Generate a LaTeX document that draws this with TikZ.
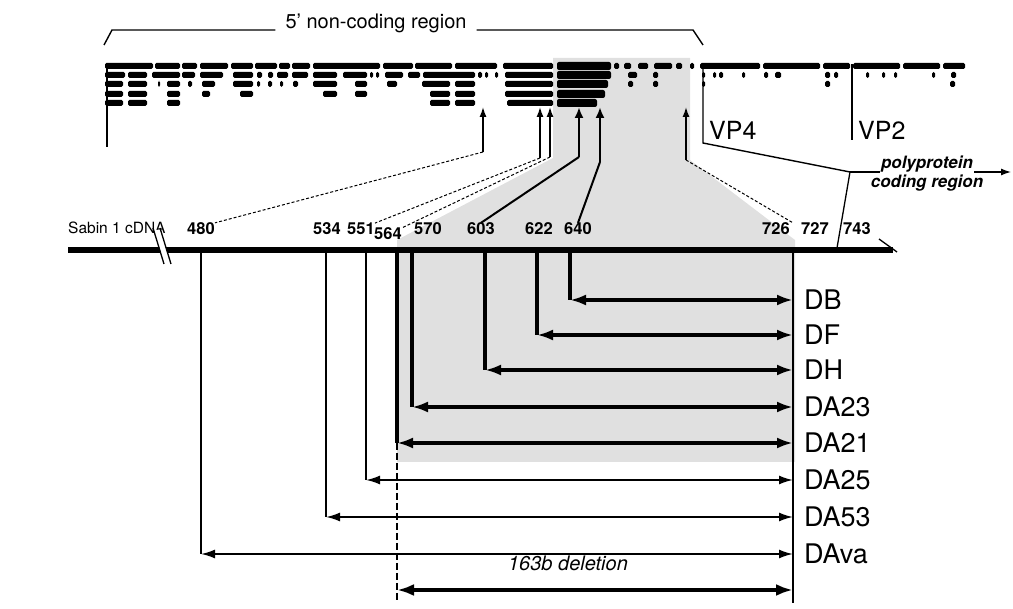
\documentclass[tikz,border=0pt]{standalone}
\usepackage{fontspec}
\setmainfont{TeX Gyre Heros}
\usetikzlibrary{arrows.meta,positioning,calc}

\begin{document}
\begin{tikzpicture}[x=1pt,y=-1pt,
  delzone/.style={fill=black!12},
  seg/.style={fill=black},
  num/.style={font=\fontsize{16.5}{16.5}\selectfont\bfseries,anchor=base,inner sep=0pt},
  mutlabel/.style={font=\fontsize{27}{27}\selectfont,anchor=west,inner sep=0pt},
  heavy/.style={line width=3.4pt,{Latex[length=16pt,width=11pt]}-{Latex[length=16pt,width=11pt]}},
  light/.style={line width=1.8pt,{Latex[length=14pt,width=9pt]}-{Latex[length=14pt,width=9pt]}},
  heavystem/.style={line width=3.2pt},
  lightstem/.style={line width=1.4pt},
  uparrow/.style={line width=1.4pt,-{Latex[length=10pt,width=7pt]}},
  bigup/.style={line width=2.8pt,-{Latex[length=11pt,width=9pt]}},
  guide/.style={line width=1pt,dash pattern=on 3pt off 2pt},
  ]
  \useasboundingbox (0,0) rectangle (1013,609);

  % Deleted region (shaded)
  \fill[delzone] (553,58) -- (690,58) -- (690,160) -- (795,240) -- (795,462)
    -- (397,462) -- (397,240) -- (553,158) -- cycle;

  % 5' non-coding region bracket
  \node[font=\fontsize{20}{20}\selectfont,inner xsep=10pt] (ncr) at (376,23) {5' non-coding region};
  \coordinate (br1) at (104,45);
  \coordinate (br2) at (112,30);
  \coordinate (br3) at (693,30);
  \coordinate (br4) at (703,45);
  \draw[line width=1.4pt] (br1) -- (br2) -- (br2 -| ncr.west);
  \draw[line width=1.4pt] (br3 -| ncr.east) -- (br3) -- (br4);

  % Sequence coverage bars
  \foreach \y/\segs in {
      66/{105/153,155/180,182/197,200/228,231/253,255/277,279/290,292/310,313/380,383/413,
          415/452,455/497,503/553,614/619,624/631,638/648,654/672,676/682,690/694,700/760,
          763/820,823/850,853/900,903/940,943/965},
      75/{105/125,128/147,152/180,182/195,200/223,233/253,257/262,268/273,277/288,292/308,
          313/337,343/367,370/373,376/379,385/403,408/420,423/475,478/482,485/488,495/498,
          505/553,628/637,653/658,702/705,713/716,719/723,742/745,764/768,775/781,825/830,
          834/838,866/869,882/885,894/897,932/935,951/956},
      84/{105/123,128/147,158/160,167/180,188/192,202/215,233/253,257/260,268/272,280/283,
          293/298,313/337,355/367,387/397,422/450,455/475,505/553,628/633,653/658,702/705,
          825/830,950/955},
      94/{105/123,128/147,167/180,202/210,240/253,323/337,355/367,430/450,455/475,505/553},
      103/{105/123,128/147,167/180,430/450,455/475,507/553}}{
    \foreach \a/\b in \segs {
      \fill[seg,rounded corners=1.5pt] (\a,\y-3) rectangle (\b,\y+3);
    }
  }
  % dense block
  \foreach \y/\b in {66/611,75/611,84/608,94/605,103/597}{
    \fill[seg,rounded corners=2pt] (557,\y-4) rectangle (\b,\y+4);
  }
  \draw[line width=1.6pt] (107,64) -- (107,147);

  % VP4 / VP2 boundaries
  \coordinate (vp4a) at (703,64);
  \coordinate (vp4b) at (703,143);
  \coordinate (vp2a) at (852,64);
  \coordinate (vp2b) at (852,140);
  \coordinate (pp) at (850,172);
  \draw[line width=1.4pt] (vp4a) -- (vp4b) -- (pp);
  \draw[line width=1.4pt] (vp2a) -- (vp2b);
  \node[font=\fontsize{25}{25}\selectfont,anchor=base west,inner sep=0pt] (VP4) at (709,140) {VP4};
  \node[font=\fontsize{25}{25}\selectfont,anchor=base west,inner sep=0pt] (VP2) at (858,140) {VP2};

  % polyprotein coding region
  \node[font=\fontsize{17}{17}\selectfont\bfseries\itshape,inner sep=1pt] (poly) at (927,164) {polyprotein};
  \node[font=\fontsize{17}{17}\selectfont\bfseries\itshape,inner sep=1pt,below=0pt of poly] (coding) {coding region};
  \coordinate (pout) at (1011,172);
  \coordinate (pdown) at (837,248);
  \draw[line width=1.3pt] (pp) -- (pp -| poly.west);
  \draw[line width=1.3pt,-{Latex[length=10pt,width=7pt]}] (pp -| poly.east) -- (pout);
  \draw[line width=1.3pt] (pp) -- (pdown);

  % cDNA axis
  \node[font=\fontsize{15.5}{15.5}\selectfont,anchor=base west,inner sep=0pt] (sabin) at (68,234) {Sabin 1 cDNA};
  \coordinate (ax0) at (68,250);
  \coordinate (ax1) at (893,250);
  \draw[line width=6pt] (ax0) -- (ax1);
  \fill[white] (154,230) -- (160,230) -- (170,262) -- (164,262) -- cycle;
  \draw[line width=1.3pt] (153,228) -- (164,264) (160,228) -- (171,264);
  \draw[line width=1.3pt] (879,239) -- (897,252);

  % Ticks and numbers
  \foreach \n/\x in {480/201,534/326,551/366,564/397,570/412,603/485,622/537,640/570,726/793}{
    \coordinate (t\n) at (\x,250);
  }
  \foreach \n/\x/\y in {480/201/235,534/327/235,551/361/235,564/388/240,570/428/235,
                        603/481/235,622/539/235,640/578/235,726/776/235,727/815/235,743/857/235}{
    \node[num] (l\n) at (\x,\y) {\n};
  }

  % Guides from the sequence bars to the cDNA
  \foreach \i/\x/\y in {1/483/152,2/540/158,3/550/157,4/579/157,5/600/162,6/686/160}{
    \coordinate (p\i) at (\x,\y);
    \coordinate (q\i) at (\x,107);
  }
  \draw[uparrow] (p1) -- (q1);
  \draw[uparrow] (p2) -- (q2);
  \draw[uparrow] (p3) -- (q3);
  \draw[bigup] (p4) -- (q4);
  \draw[bigup] (p5) -- (q5);
  \draw[uparrow] (p6) -- (q6);
  \draw[guide] (p1) -- (l480.north east);
  \draw[guide] (p2) -- (l551.north east);
  \draw[guide] (p3) -- (l564.north east);
  \draw[guide] (p6) -- (t726 |- l726.north);
  \draw[line width=2pt] (p4) -- (l603.north);
  \draw[line width=2pt] (p5) -- (l640.north);

  % Deletion mutants
  \foreach \name/\t/\y in {DB/640/300,DF/622/335,DH/603/370,DA23/570/407,DA21/564/443}{
    \coordinate (R\name) at (793,\y);
    \node[mutlabel] (\name) at (804,\y) {\name};
    \draw[heavystem] (t\t) -- (t\t |- R\name);
    \draw[heavy] (t\t |- R\name) -- (R\name);
  }
  \foreach \name/\t/\y in {DA25/551/480,DA53/534/517,DAva/480/554}{
    \coordinate (R\name) at (793,\y);
    \node[mutlabel] (\name) at (804,\y) {\name};
    \draw[lightstem] (t\t) -- (t\t |- R\name);
    \draw[light] (t\t |- R\name) -- (R\name);
  }

  % 163b deletion
  \coordinate (d0) at (397,590);
  \coordinate (d1) at (793,590);
  \draw[line width=1.3pt,dash pattern=on 7pt off 3pt] (t564 |- RDA21) -- (397,603);
  \draw[line width=1.5pt] (t726) -- (793,603);
  \draw[line width=3.6pt,{Latex[length=17pt,width=12pt]}-{Latex[length=17pt,width=12pt]}] (d0) -- (d1);
  \node[font=\fontsize{20}{20}\selectfont\itshape,anchor=base] (del) at (568,571) {163b deletion};
\end{tikzpicture}
\end{document}
